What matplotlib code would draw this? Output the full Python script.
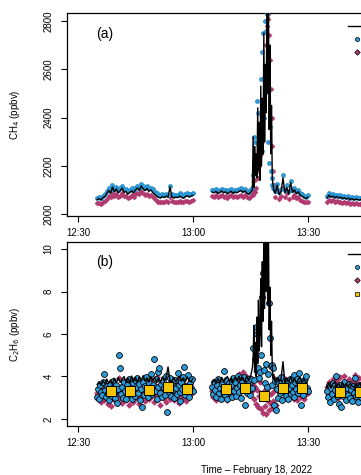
import matplotlib
matplotlib.use("Agg")
import matplotlib.pyplot as plt
from matplotlib.lines import Line2D
import numpy as np

plt.rcParams['font.family'] = ['Liberation Sans', 'DejaVu Sans']
plt.rcParams['font.size'] = 7

# time in minutes after 12:00
ta1 = np.arange(35, 60.01, 0.5)
ta2 = np.concatenate([np.arange(65, 75.51, 0.5), np.arange(75.7, 81.15, 0.2), np.arange(81.5, 90.01, 0.5)])
ta3 = np.arange(95, 110.01, 0.5)
tb1 = np.arange(35, 60.01, 0.25)
tb2 = np.arange(65, 90.01, 0.25)
tb3 = np.arange(95, 110.01, 0.25)

# (a) CH4, ppbv
ch4_ref1 = [2060, 2064, 2058, 2068, 2072, 2085, 2098, 2086, 2112, 2092,
            2104, 2088, 2096, 2108, 2090, 2094, 2082, 2090, 2096, 2088,
            2100, 2108, 2098, 2116, 2104, 2098, 2106, 2094, 2100, 2090,
            2082, 2074, 2070, 2066, 2072, 2068, 2074, 2070, 2112, 2072,
            2066, 2070, 2068, 2074, 2070, 2066, 2072, 2076, 2070, 2074, 2078]
ch4_a1 = [2066, 2072, 2068, 2076, 2082, 2094, 2108, 2098, 2120, 2104,
          2114, 2100, 2106, 2118, 2102, 2104, 2094, 2100, 2108, 2098,
          2110, 2118, 2110, 2126, 2116, 2108, 2116, 2106, 2110, 2102,
          2092, 2086, 2080, 2078, 2082, 2080, 2084, 2080, 2118, 2084,
          2078, 2080, 2080, 2086, 2082, 2076, 2082, 2088, 2082, 2084, 2088]
ch4_b1 = [2044, 2046, 2042, 2048, 2054, 2064, 2076, 2070, 2088, 2076,
          2082, 2072, 2076, 2086, 2074, 2076, 2066, 2072, 2078, 2072,
          2082, 2088, 2082, 2094, 2086, 2080, 2084, 2076, 2080, 2072,
          2064, 2056, 2052, 2050, 2052, 2050, 2054, 2052, 2070, 2054,
          2050, 2052, 2050, 2054, 2052, 2050, 2054, 2056, 2052, 2054, 2058]

ch4_ref2 = [2092, 2088, 2094, 2086, 2090, 2096, 2088, 2092, 2084, 2090,
            2094, 2086, 2092, 2088, 2094, 2098, 2090, 2096, 2088, 2082, 2090, 2098,
            2320, 2110, 2280, 2160, 2250, 2150, 2440, 2180, 2380, 2140,
            2530, 2200, 2480, 2250, 2750, 2300, 2620, 2420, 2860, 2500,
            2880, 2350, 2700, 2250, 2450, 2150, 2120, 2100,
            2086, 2120, 2080, 2094, 2150, 2088, 2110, 2082, 2130, 2090,
            2100, 2084, 2092, 2078, 2074, 2068, 2064, 2070]
ch4_a2 = [2100, 2098, 2102, 2096, 2098, 2104, 2098, 2100, 2094, 2098,
          2104, 2096, 2100, 2098, 2102, 2108, 2100, 2104, 2096, 2092, 2100, 2108,
          2160, 2320, 2190, 2300, 2200, 2470, 2290, 2420, 2230, 2350,
          2560, 2260, 2670, 2750, 2400, 2800, 2500, 2760, 2830, 2640,
          2300, 2210, 2360, 2180, 2150, 2120, 2110, 2105,
          2096, 2124, 2092, 2104, 2160, 2098, 2120, 2094, 2136, 2100,
          2108, 2094, 2100, 2088, 2082, 2076, 2072, 2078]
ch4_b2 = [2076, 2072, 2078, 2070, 2074, 2080, 2072, 2076, 2068, 2074,
          2078, 2070, 2074, 2070, 2076, 2080, 2072, 2078, 2070, 2066, 2072, 2084,
          2080, 2100, 2090, 2140, 2110, 2180, 2150, 2230, 2200, 2280,
          2250, 2330, 2300, 2400, 2450, 2520, 2600, 2700, 2780, 2830,
          2810, 2740, 2640, 2520, 2400, 2280, 2180, 2120,
          2070, 2096, 2064, 2076, 2110, 2070, 2086, 2064, 2100, 2072,
          2080, 2066, 2072, 2060, 2056, 2050, 2048, 2052]

ch4_ref3 = [2066, 2078, 2070, 2074, 2068, 2072, 2066, 2070, 2064, 2068,
            2062, 2066, 2060, 2064, 2058, 2062, 2060, 2058, 2062, 2056,
            2060, 2058, 2056, 2060, 2054, 2058, 2056, 2054, 2058, 2056, 2054]
ch4_a3 = [2074, 2086, 2080, 2082, 2076, 2080, 2074, 2078, 2072, 2076,
          2070, 2074, 2068, 2072, 2066, 2070, 2068, 2066, 2070, 2064,
          2068, 2066, 2064, 2068, 2062, 2066, 2064, 2062, 2066, 2064, 2062]
ch4_b3 = [2052, 2060, 2056, 2058, 2052, 2054, 2050, 2052, 2046, 2050,
          2044, 2048, 2042, 2046, 2040, 2044, 2042, 2040, 2044, 2038,
          2042, 2040, 2038, 2042, 2036, 2040, 2038, 2036, 2040, 2038, 2036]

# (b) C2H6, ppbv
c2_ref1 = [3.62, 3.76, 3.58, 3.80, 3.66, 3.88, 3.68, 3.84, 3.64, 3.92,
           3.70, 3.96, 3.72, 3.86, 4.00, 3.74, 3.94, 3.70, 4.02, 3.76,
           3.96, 3.72, 3.98, 3.80, 4.04, 3.78, 3.94, 3.74, 4.00, 3.80,
           3.96, 3.76, 3.92, 3.72, 3.98, 3.78, 3.94, 4.45, 3.80, 3.76,
           3.96, 3.74, 3.92, 4.00, 3.78, 3.94, 3.74, 3.98, 3.80, 3.76, 3.90]
c2_ref2 = [3.70, 3.86, 3.66, 3.92, 3.72, 3.96, 3.74, 3.90, 4.00, 3.76,
           3.94, 3.72, 3.98, 3.78, 4.02, 3.80, 3.96, 3.74, 4.00, 3.82, 3.96, 4.40,
           4.8, 6.4, 4.2, 5.6, 4.0, 6.8, 4.6, 7.6, 5.2, 6.2,
           8.6, 5.4, 9.4, 6.6, 10.8, 7.2, 11.0, 8.0, 11.5, 7.4,
           10.9, 6.2, 8.2, 5.0, 6.6, 4.4, 3.9, 4.1,
           3.70, 3.96, 3.74, 3.90, 4.70, 3.68, 3.94, 3.76, 4.00, 3.72,
           3.92, 3.68, 3.88, 3.96, 3.72, 3.90, 3.66, 3.84]
c2_ref3 = [3.50, 3.70, 3.46, 3.66, 3.74, 3.52, 3.68, 3.48, 3.72, 3.54,
           3.68, 3.50, 3.70, 3.56, 3.48, 3.68, 3.54, 3.70, 3.50, 3.66,
           3.52, 3.68, 3.48, 3.64, 3.70, 3.50, 3.66, 3.54, 3.68, 3.52, 3.62]

c2_a1 = [3.05, 3.42, 2.95, 3.60, 3.28, 3.15, 3.72, 4.12, 3.38, 3.02,
         3.55, 3.20, 2.88, 3.66, 3.34, 3.10, 3.48, 3.80, 3.22, 2.98,
         3.62, 2.75, 3.40, 5.00, 4.40, 3.18, 3.52, 3.00, 3.74, 3.30,
         2.92, 3.58, 3.36, 3.90, 3.12, 3.46, 2.96, 3.68, 3.24, 3.84,
         3.06, 3.50, 3.94, 3.20, 3.64, 2.90, 3.42, 2.55, 3.76, 3.14,
         3.56, 3.98, 3.26, 3.02, 3.70, 3.38, 4.10, 3.16, 3.60, 4.82,
         3.30, 3.88, 2.94, 3.52, 4.20, 4.40, 3.22, 3.66, 3.04, 3.78,
         3.44, 3.12, 4.02, 2.33, 3.58, 3.28, 3.92, 3.08, 3.70, 3.36,
         2.98, 3.84, 3.48, 3.18, 4.16, 3.62, 3.26, 2.85, 3.74, 3.40,
         3.96, 4.45, 3.14, 3.56, 3.32, 4.06, 3.02, 3.68, 3.44, 3.86, 3.30]
c2_a2 = [3.50, 3.18, 3.72, 3.36, 3.02, 3.60, 3.88, 3.24, 3.46, 2.96,
         3.66, 3.30, 4.26, 3.12, 3.54, 3.84, 2.92, 3.40, 3.70, 3.20,
         3.58, 3.04, 3.92, 3.34, 3.76, 3.10, 3.48, 4.02, 3.26, 3.62,
         2.98, 3.80, 3.44, 3.98, 2.66, 3.56, 3.22, 3.86, 3.38, 3.68,
         3.14, 3.90, 3.46, 5.34, 3.83, 4.82, 6.33, 6.00, 4.40, 3.95,
         4.20, 5.00, 7.74, 8.87, 4.30, 3.70, 4.60, 3.50, 4.10, 7.46,
         5.80, 4.50, 3.60, 4.54, 4.40, 2.66, 3.80, 2.42, 3.40, 3.00,
         3.70, 3.20, 3.96, 2.88, 3.52, 3.34, 3.78, 3.10, 3.64, 2.94,
         3.46, 3.86, 3.16, 3.58, 3.28, 4.06, 3.02, 3.72, 3.40, 3.90,
         3.24, 4.16, 3.56, 2.66, 3.68, 3.12, 3.84, 3.36, 4.00, 3.48, 3.30]
c2_a3 = [3.30, 3.02, 3.58, 2.80, 3.44, 3.16, 3.70, 2.96, 3.36, 4.02,
         3.10, 3.52, 2.70, 3.28, 3.62, 2.57, 3.40, 3.06, 3.74, 3.22,
         2.90, 3.48, 3.14, 3.66, 3.00, 3.38, 2.84, 3.56, 3.20, 3.92,
         3.08, 3.44, 2.78, 3.60, 3.26, 3.02, 3.50, 3.16, 3.70, 2.94,
         3.34, 3.12, 3.58, 2.88, 3.42, 3.20, 3.64, 3.04, 3.36, 3.10,
         3.52, 2.92, 3.30, 3.46, 3.06, 3.62, 3.18, 3.40, 2.98, 3.28, 3.44]

c2_b1 = [3.20, 2.94, 3.46, 3.10, 2.78, 3.36, 3.62, 2.88, 3.24, 3.52,
         3.04, 2.70, 3.40, 3.16, 2.62, 3.30, 3.70, 2.96, 3.48, 3.12,
         2.84, 3.56, 3.22, 3.92, 3.00, 3.38, 2.76, 3.64, 3.14, 3.44,
         2.90, 3.80, 3.26, 2.68, 3.50, 3.08, 3.34, 2.82, 3.60, 3.18,
         3.86, 2.98, 3.42, 3.12, 2.72, 3.54, 3.28, 3.02, 3.74, 3.20,
         2.86, 3.46, 3.16, 3.66, 2.94, 3.36, 3.84, 3.06, 3.30, 2.78,
         3.58, 3.22, 3.96, 2.92, 3.40, 3.14, 2.66, 3.52, 3.26, 3.72,
         3.00, 3.44, 2.80, 3.62, 3.18, 3.36, 2.96, 3.78, 3.10, 3.48,
         2.88, 3.30, 3.68, 3.04, 3.54, 2.74, 3.24, 3.88, 3.12, 3.42,
         2.98, 3.60, 3.20, 2.84, 3.50, 3.34, 3.06, 3.70, 3.16, 3.40, 3.28]
c2_b2 = [3.30, 3.04, 3.56, 3.18, 2.90, 3.44, 3.68, 3.10, 3.36, 2.96,
         3.60, 3.22, 3.48, 3.02, 3.74, 3.28, 2.88, 3.52, 3.14, 3.40,
         3.66, 3.06, 3.34, 3.82, 3.20, 3.58, 3.90, 3.46, 4.10, 3.70,
         3.96, 3.62, 4.20, 3.84, 3.54, 4.04, 3.76, 3.50, 3.92, 3.68,
         3.44, 3.80, 3.30, 3.60, 2.95, 3.52, 2.70, 3.36, 2.58, 3.10,
         3.72, 2.46, 2.98, 2.30, 3.30, 2.62, 2.22, 2.90, 3.48, 2.40,
         2.76, 3.18, 2.52, 3.62, 2.86, 3.30, 3.90, 2.68, 3.44, 3.76,
         3.50, 3.86, 3.40, 3.74, 3.96, 3.56, 3.82, 3.44, 3.70, 3.30,
         3.62, 3.20, 3.50, 3.08, 3.40, 2.96, 3.34, 3.12, 3.56, 2.90,
         3.44, 3.18, 3.62, 3.04, 3.30, 3.52, 2.94, 3.38, 3.16, 3.46, 3.24]
c2_b3 = [3.50, 3.20, 3.76, 3.04, 3.62, 3.36, 3.90, 3.12, 3.54, 3.28,
         3.84, 3.00, 3.66, 3.40, 3.96, 3.18, 3.58, 3.30, 4.04, 3.46,
         3.10, 3.72, 3.34, 3.88, 3.22, 3.60, 2.96, 3.80, 3.44, 4.08,
         3.26, 3.68, 3.14, 3.92, 3.38, 3.56, 3.06, 3.74, 3.48, 3.98,
         3.32, 3.64, 3.20, 3.86, 3.42, 3.70, 3.10, 3.58, 3.36, 3.94,
         3.24, 3.66, 3.46, 3.82, 3.16, 3.52, 3.78, 3.30, 3.62, 3.40, 3.56]

# 5-min means
avg_t = [38.5, 43.5, 48.5, 53.5, 58.5, 68.5, 73.5, 78.5, 83.5, 88.5, 98.5, 103.5, 108.5]
avg_c2 = [3.32, 3.32, 3.35, 3.50, 3.42, 3.42, 3.46, 3.08, 3.46, 3.46, 3.28, 3.28, 3.30]

xticks = [30, 60, 90]
xticklabels = ['12:30', '13:00', '13:30']

blue = '#2D9BDA'
red = '#B03A6E'
gold = '#F5C400'

fig = plt.figure(figsize=(3.61, 4.75), dpi=100)
ax1 = fig.add_axes([67/361, 259/475, 380/361, 203/475])
ax2 = fig.add_axes([67/361, 49/475, 380/361, 184/475])

# panel a
ax1.plot(np.concatenate([ta1, ta2, ta3]), ch4_b1 + ch4_b2 + ch4_b3, 'D', ms=2.6,
         mfc=red, mec=red, mew=0.3, zorder=2)
ax1.plot(np.concatenate([ta1, ta2, ta3]), ch4_a1 + ch4_a2 + ch4_a3, 'o', ms=3.2,
         mfc=blue, mec='#2380b8', mew=0.25, zorder=3)
for t, v in [(ta1, ch4_ref1), (ta2, ch4_ref2), (ta3, ch4_ref3)]:
    ax1.plot(t, v, color='k', lw=1.0, zorder=4)
ax1.set_ylim(1992, 2833)
ax1.set_yticks([2000, 2200, 2400, 2600, 2800])
ax1.set_ylabel('CH$_4$ (ppbv)')
ax1.text(0.1, 0.897, '(a)', transform=ax1.transAxes, fontsize=10, ha='center', va='center')

# panel b
ax2.plot(np.concatenate([tb1, tb2, tb3]), c2_b1 + c2_b2 + c2_b3, 'D', ms=3.4,
         mfc=red, mec='none', zorder=2)
ax2.plot(np.concatenate([tb1, tb2, tb3]), c2_a1 + c2_a2 + c2_a3, 'o', ms=4.2,
         mfc=blue, mec='k', mew=0.6, zorder=3)
for t, v in [(ta1, c2_ref1), (ta2, c2_ref2), (ta3, c2_ref3)]:
    ax2.plot(t, v, color='k', lw=1.0, zorder=4)
ax2.plot(avg_t, avg_c2, 's', ms=6.5, mfc=gold, mec='k', mew=0.7, zorder=5)
ax2.set_ylim(1.67, 10.33)
ax2.set_yticks([2, 4, 6, 8, 10])
ax2.set_ylabel('C$_2$H$_6$ (ppbv)')
ax2.set_xlabel('Time \u2013 February 18, 2022')
ax2.xaxis.set_label_coords(0.5, -0.212)
ax2.text(0.1, 0.89, '(b)', transform=ax2.transAxes, fontsize=10, ha='center', va='center')

for ax in (ax1, ax2):
    ax.set_xlim(27.13, 126.3)
    ax.set_xticks(xticks)
    ax.set_xticklabels(xticklabels)
    for s in ax.spines.values():
        s.set_linewidth(0.9)
    ax.tick_params(direction='out', length=4.3, width=0.8, pad=4)
    ax.tick_params(axis='y', pad=5.5)
    for lbl in ax.get_yticklabels():
        lbl.set_rotation(90)
        lbl.set_va('center')
    ax.yaxis.set_label_coords(-0.118, 0.5)

# legends: only the keys fall inside the cropped figure
h_ref = Line2D([], [], color='k', lw=1.0)
h_a = Line2D([], [], ls='none', marker='o', ms=3, mfc=blue, mec='k', mew=0.5)
h_b = Line2D([], [], ls='none', marker='D', ms=2.8, mfc=red, mec='k', mew=0.5)
h_avg = Line2D([], [], ls='none', marker='s', ms=3, mfc=gold, mec='k', mew=0.5)
ax1.legend([h_ref, h_a, h_b], ['', '', ''], loc='upper left',
           bbox_to_anchor=(348/361, 1 - 21/475), bbox_transform=fig.transFigure,
           frameon=False, borderpad=0, borderaxespad=0, handlelength=1.9,
           handletextpad=0.6, labelspacing=0.35, fontsize=7)
ax2.legend([h_ref, h_a, h_b, h_avg], ['', '', '', ''],
           loc='upper left', bbox_to_anchor=(348/361, 1 - 249/475), bbox_transform=fig.transFigure,
           frameon=False, borderpad=0, borderaxespad=0, handlelength=1.9,
           handletextpad=0.6, labelspacing=0.35, fontsize=7)

fig.savefig('out.png', dpi=100)
